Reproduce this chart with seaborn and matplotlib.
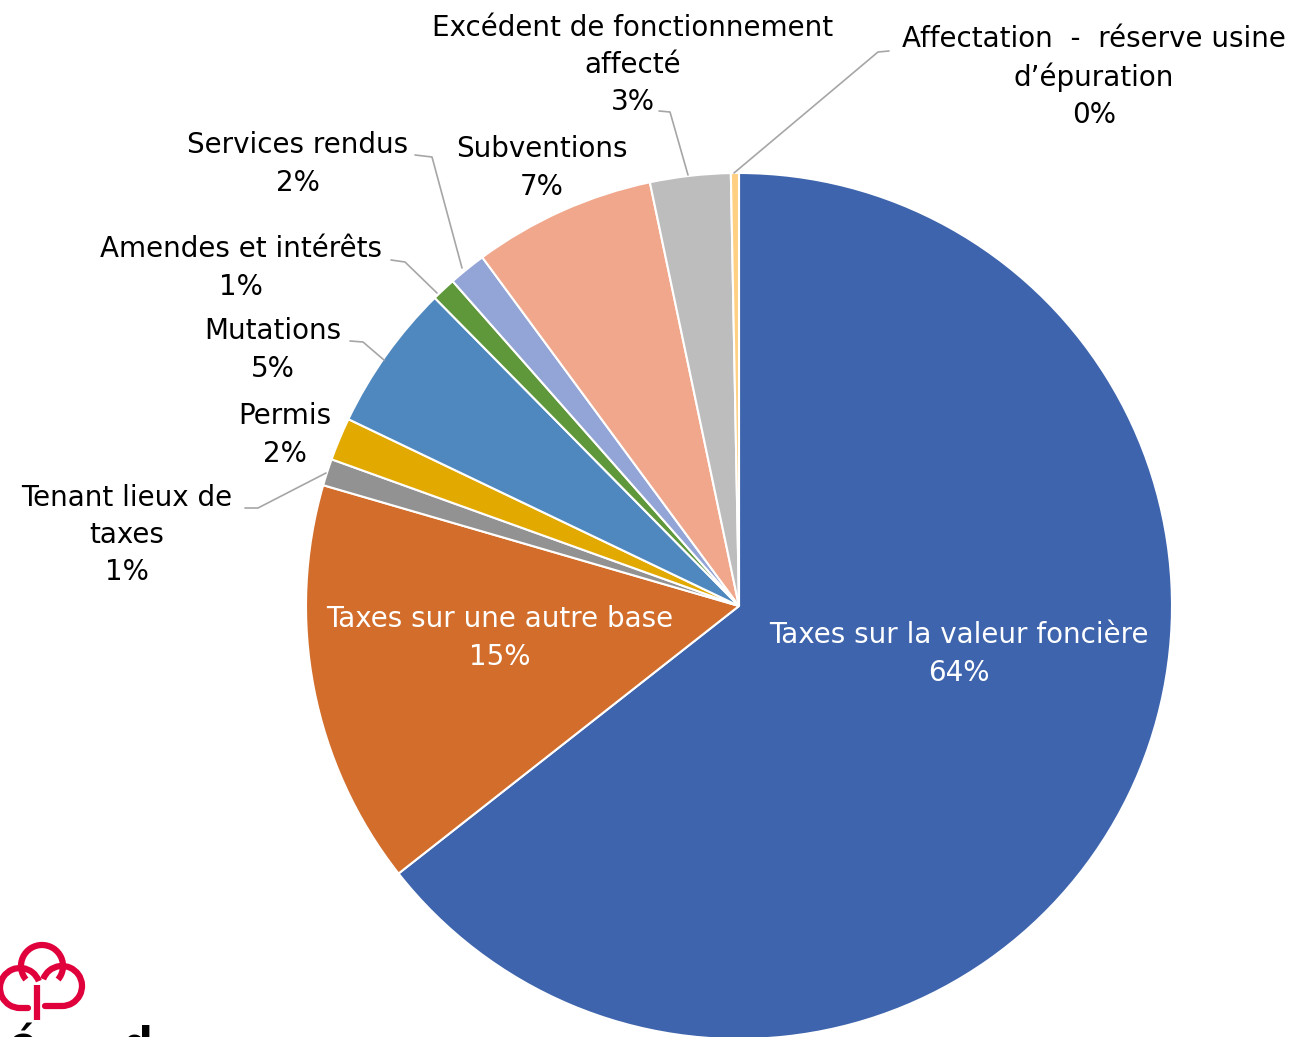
import numpy as np
import seaborn as sns
import matplotlib.pyplot as plt
from matplotlib.patches import Arc

# Revenus - parts
categories = [
    "Taxes sur la valeur foncière",
    "Taxes sur une autre base",
    "Tenant lieux de\ntaxes",
    "Permis",
    "Mutations",
    "Amendes et intérêts",
    "Services rendus",
    "Subventions",
    "Excédent de fonctionnement\naffecté",
    "Affectation  -  réserve usine\nd’épuration",
]
values = [64.4, 15.1, 1.0, 1.6, 5.5, 0.9, 1.4, 6.8, 3.0, 0.3]
pct_labels = ["64%", "15%", "1%", "2%", "5%", "1%", "2%", "7%", "3%", "0%"]
colors = ["#3E64AD", "#D26D2B", "#929292", "#E2AA00", "#4E88BE",
          "#5F973B", "#93A5D6", "#F0A78B", "#BDBDBD", "#FFD082"]

W, H = 1302, 1037
sns.set_theme(style="white")
plt.rcParams['font.family'] = ['DejaVu Sans']

fig = plt.figure(figsize=(W / 100, H / 100), dpi=100)
ax = fig.add_axes([0, 0, 1, 1])


def py(y):
    # pixel row -> data y (axes go upward)
    return H - y


ax.pie(values, colors=colors, startangle=90, counterclock=False,
       center=(739, py(606)), radius=433,
       wedgeprops=dict(edgecolor="white", linewidth=1.5))
ax.set_xlim(0, W)
ax.set_ylim(0, H)
ax.set_aspect("equal")
ax.axis("off")

fs = 20
grey = "#A6A6A6"

# labels: (text center x, block center y, color)
label_pos = [
    (959, 654, "white"),
    (500, 638, "white"),
    (127, 535, "black"),
    (285, 435, "black"),
    (273, 350, "black"),
    (241, 268, "black"),
    (298, 164, "black"),
    (542, 168, "black"),
    (633, 65, "black"),
    (1094, 77, "black"),
]
for name, pct, (x, y, c) in zip(categories, pct_labels, label_pos):
    ax.text(x, py(y), name + "\n" + pct, ha="center", va="center",
            fontsize=fs, color=c, linespacing=1.42)

# leader lines
leaders = [
    [(245, 508), (258, 508), (326, 473)],
    [(350, 341), (363, 342), (384, 360)],
    [(391, 260), (405, 262), (437, 293)],
    [(415, 155), (432, 157), (462, 268)],
    [(659, 111), (670, 112), (688, 175)],
    [(889, 51), (878, 52), (734, 173)],
]
for pts in leaders:
    xs = [p[0] for p in pts]
    ys = [py(p[1]) for p in pts]
    ax.plot(xs, ys, color=grey, lw=1.2)

# logo (coin inférieur gauche)
red = "#E0003C"
lw = 4.5
ax.add_patch(Arc((42, py(966)), 42, 42, theta1=-40, theta2=220, color=red, lw=lw))
ax.add_patch(Arc((20, py(988)), 40, 40, theta1=20, theta2=270, color=red, lw=lw))
ax.add_patch(Arc((62, py(986)), 40, 40, theta1=-90, theta2=160, color=red, lw=lw))
ax.plot([37, 37], [py(985), py(1020)], color=red, lw=lw, solid_capstyle="butt")
ax.plot([20, 28], [py(1008), py(1008)], color=red, lw=lw)
ax.plot([62, 45], [py(1006), py(1006)], color=red, lw=lw)
ax.text(8, py(1024), "é", fontsize=30, fontweight="bold", color="black", va="top")
ax.text(122, py(1024), "d", fontsize=30, fontweight="bold", color="black", va="top")

fig.savefig("out.png", dpi=100)
